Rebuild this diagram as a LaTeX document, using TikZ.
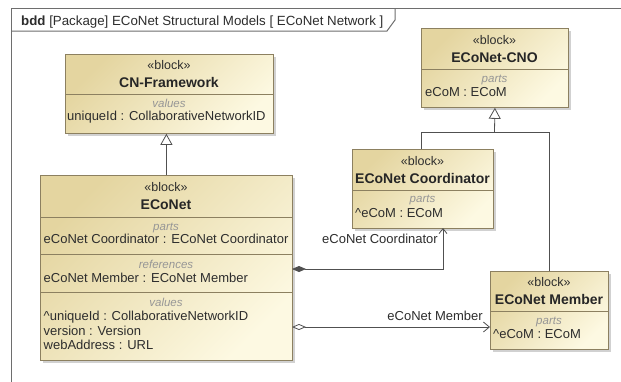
\documentclass[tikz,border=0pt]{standalone}
\usepackage{fontspec}
\setmainfont{Liberation Sans}
\usetikzlibrary{arrows.meta,shadows}
\definecolor{tanA}{RGB}{228,213,160}
\definecolor{tanB}{RGB}{253,249,226}
\definecolor{bdr}{RGB}{140,128,96}
\definecolor{lnc}{RGB}{80,80,80}
\definecolor{cmp}{RGB}{150,150,150}
\definecolor{txt}{RGB}{45,45,45}
\definecolor{frm}{RGB}{110,110,110}
\tikzset{
  blockbox/.style={draw=bdr, line width=0.8pt, top color=tanA, bottom color=tanB,
    shading angle=45, anchor=north west, inner sep=0pt,
    drop shadow={shadow xshift=2.5pt, shadow yshift=-2.5pt, fill=black, opacity=0.18}},
  divline/.style={draw=bdr, line width=0.8pt},
  ster/.style={font=\fontsize{12.5}{14}\selectfont, text=txt, inner sep=0pt, anchor=base},
  ttl/.style={font=\fontsize{14}{15}\selectfont\bfseries, text=black!85, inner sep=0pt, anchor=base},
  cmpt/.style={font=\fontsize{11.5}{13}\selectfont\itshape, text=cmp, inner sep=0pt, anchor=base},
  attr/.style={font=\fontsize{13}{14}\selectfont, text=txt, inner sep=0pt, anchor=base west},
  lbl/.style={font=\fontsize{13}{14}\selectfont, text=txt, inner sep=0pt, anchor=base east},
  conn/.style={draw=lnc, line width=0.8pt},
  gen/.style={conn, -{Triangle[open, length=11pt, width=12pt, fill=white]}},
  frameline/.style={draw=frm, line width=1pt}
}
\begin{document}
\begin{tikzpicture}[x=1pt, y=-1pt]
\useasboundingbox (0,0) rectangle (621,381);
\fill[white] (0,0) rectangle (621,381);
% frame
\draw[frameline] (11,8.5) rectangle (660,420);
\draw[frameline] (11,31) -- (387,31) -- (395,20) -- (395,8.5);
\node[font=\fontsize{13.3}{14}\selectfont, text=txt, inner sep=0pt, anchor=base west] (title) at (21,25)
  {\textbf{bdd} [Package] ECoNet Structural Models [ ECoNet Network ]};

% blocks
\node[blockbox, minimum width=208pt, minimum height=79pt] (cnf) at (65,54) {};
\node[blockbox, minimum width=252pt, minimum height=185pt] (eco) at (40,175) {};
\node[blockbox, minimum width=147pt, minimum height=79pt] (cno) at (421,28) {};
\node[blockbox, minimum width=141pt, minimum height=79pt] (crd) at (352,149) {};
\node[blockbox, minimum width=118pt, minimum height=78pt] (mem) at (490,271) {};

% dividers
\draw[divline] (65,94) -- (273,94);
\draw[divline] (40,217) -- (292,217);
\draw[divline] (40,254) -- (292,254);
\draw[divline] (40,292) -- (292,292);
\draw[divline] (421,69) -- (568,69);
\draw[divline] (352,190) -- (493,190);
\draw[divline] (490,311) -- (608,311);

% CN-Framework
\node[ster] (cnfS) at (169,69) {«block»};
\node[ttl] (cnfT) at (169,87.5) {CN-Framework};
\node[cmpt] (cnfV) at (169,107) {values};
\node[attr] (cnfA) at (67,120.5) {uniqueId : CollaborativeNetworkID};

% ECoNet
\node[ster] (ecoS) at (166,191) {«block»};
\node[ttl] (ecoT) at (166,209.5) {ECoNet};
\node[cmpt] (ecoP) at (166,230) {parts};
\node[attr] (ecoA1) at (43.5,243.5) {eCoNet Coordinator : ECoNet Coordinator};
\node[cmpt] (ecoR) at (166,268) {references};
\node[attr] (ecoA2) at (43.5,282.5) {eCoNet Member : ECoNet Member};
\node[cmpt] (ecoV) at (166,306) {values};
\node[attr] (ecoA3) at (43.5,320.5) {\textasciicircum uniqueId : CollaborativeNetworkID};
\node[attr] (ecoA4) at (43.5,335) {version : Version};
\node[attr] (ecoA5) at (43.5,349) {webAddress : URL};

% ECoNet-CNO
\node[ster] (cnoS) at (494.5,44.5) {«block»};
\node[ttl] (cnoT) at (494.5,62.5) {ECoNet-CNO};
\node[cmpt] (cnoP) at (494.5,82) {parts};
\node[attr] (cnoA) at (425,96.5) {eCoM : ECoM};

% ECoNet Coordinator
\node[ster] (crdS) at (422.5,165.5) {«block»};
\node[ttl] (crdT) at (422.5,183.5) {ECoNet Coordinator};
\node[cmpt] (crdP) at (422.5,202) {parts};
\node[attr] (crdA) at (355,217.5) {\textasciicircum eCoM : ECoM};

% ECoNet Member
\node[ster] (memS) at (549,286.5) {«block»};
\node[ttl] (memT) at (549,304.5) {ECoNet Member};
\node[cmpt] (memP) at (549,324) {parts};
\node[attr] (memA) at (493,338.5) {\textasciicircum eCoM : ECoM};

% connectors
\draw[gen] (eco.north) -- (eco.north |- cnf.south);
\coordinate (bar) at (494.5,132);
\draw[conn] (crd.north -| cno.west) |- (bar);
\draw[conn] (mem.north) |- (bar);
\draw[gen] (bar) -- (cno.south);

\coordinate (cmpS) at (292,269);
\coordinate (crdB) at (443,228);
\draw[conn, {Diamond[length=14pt, width=6pt, fill=lnc]}-{Straight Barb[length=5pt, width=8pt]}] (cmpS) -| (crdB);
\node[lbl] (cmpL) at (438,243.5) {eCoNet Coordinator};

\coordinate (agS) at (292,327);
\draw[conn, {Diamond[open, length=14pt, width=6pt, fill=white]}-{Straight Barb[length=6pt, width=10pt]}] (agS) -- (agS -| mem.west);
\node[lbl] (agL) at (483,320.5) {eCoNet Member};
\end{tikzpicture}
\end{document}
